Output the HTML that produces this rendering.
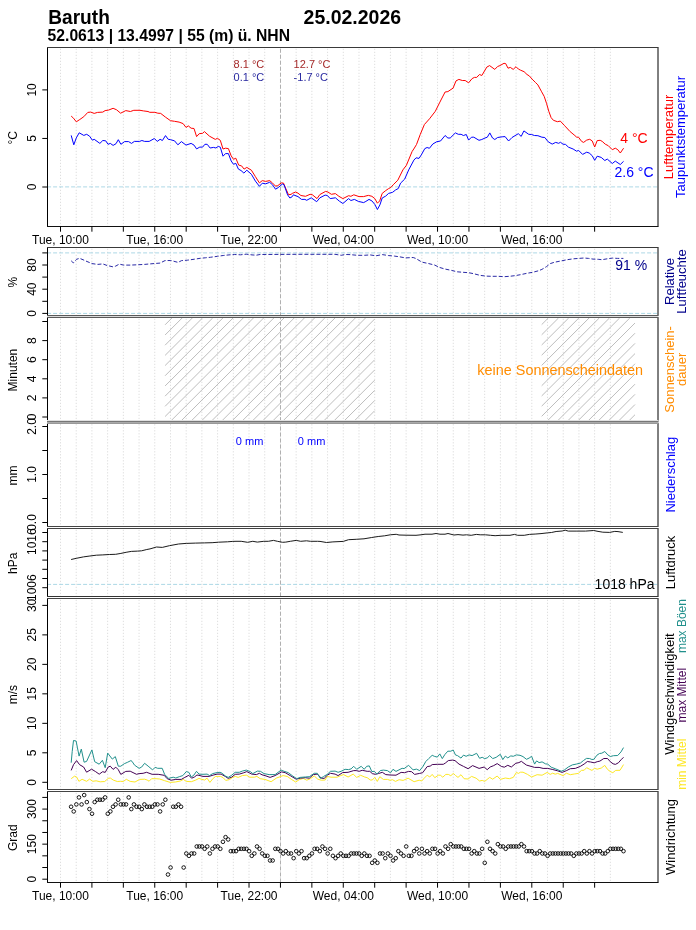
<!DOCTYPE html>
<html><head><meta charset="utf-8"><title>Baruth 25.02.2026</title>
<style>html,body{margin:0;padding:0;background:#fff;} svg{display:block;font-family:'Liberation Sans', Arial, Helvetica, sans-serif;will-change:transform;}</style>
</head><body>
<svg width="696" height="930" viewBox="0 0 696 930">
<rect width="696" height="930" fill="#fff"/>
<text transform="translate(48.3 23.6) scale(1 1.04)" font-size="19.1" font-weight="bold">Baruth</text>
<text transform="translate(303.6 24.3) scale(1 1.04)" font-size="19.5" font-weight="bold">25.02.2026</text>
<text transform="translate(47.6 41.1) scale(1 1.04)" font-size="15.7" font-weight="bold">52.0613 | 13.4997 | 55 (m) ü. NHN</text>
<path d="M60.5 48.75V226M76.21 48.75V226M91.92 48.75V226M107.63 48.75V226M123.34 48.75V226M139.05 48.75V226M154.76 48.75V226M170.47 48.75V226M186.18 48.75V226M201.89 48.75V226M217.6 48.75V226M233.31 48.75V226M249.02 48.75V226M264.73 48.75V226M280.44 48.75V226M296.15 48.75V226M311.86 48.75V226M327.57 48.75V226M343.28 48.75V226M358.99 48.75V226M374.7 48.75V226M390.41 48.75V226M406.12 48.75V226M421.83 48.75V226M437.54 48.75V226M453.25 48.75V226M468.96 48.75V226M484.67 48.75V226M500.38 48.75V226M516.09 48.75V226M531.8 48.75V226M547.51 48.75V226M563.22 48.75V226M578.93 48.75V226M594.64 48.75V226M610.35 48.75V226" stroke="#dedede" stroke-width="1" stroke-dasharray="1.3 1.7" fill="none"/>
<path d="M48.0 186.9H657.5" stroke="#add8e6" stroke-width="1" stroke-dasharray="4 2" stroke-dashoffset="0.90" fill="none"/>
<path d="M280.5 48V226" stroke="#b0b0b0" stroke-width="1" stroke-dasharray="4 2" stroke-dashoffset="5.30" fill="none"/>
<polyline points="71.2,116.1 73.5,118.2 76.3,121.8 79.8,119.5 83.8,116.7 87.8,112.4 90.7,112.1 94.2,113.4 97.6,112.4 102.8,112.1 105.1,110.6 108.5,110.1 113.1,108.3 116.6,109.8 120.6,113.2 125.8,110.6 130.4,111.5 133.8,110.3 140,110.3 143.4,110.9 148,111.5 149.8,112.3 154.9,112.3 157.8,113.2 160.7,113.4 165.3,117 170.5,120.7 174.5,121.3 179.1,122.1 183.1,123.6 186,127.4 188.3,125.9 191.1,128.2 194,128.5 196.6,136.6 199.2,133.7 202.6,133.3 204.4,131.6 209.5,136.2 215.3,139.4 217.4,138.3 220.3,140.3 223,149 225.5,148.2 228.4,148.6 231.2,155.9 233.5,159.3 235.8,158.2 238.7,165.1 241.6,165.9 244.1,169.1 246.8,167.4 251.4,170.2 255.4,176.6 259.4,182.9 262.3,180.6 265.7,181.4 269.7,180.6 272.6,183.1 275.5,186.1 277.8,185.7 281.2,182.9 283.5,183.1 285.8,188.6 288.5,194.7 291,194.4 292.3,193.4 295.7,192 298,193.2 300.9,195.5 305.5,196.3 310.1,194.3 312.4,194.8 317,198.6 319.9,194.5 325.6,191.4 327.9,192 331.4,194.3 335.4,193.6 338.9,196.3 342.9,198.6 348.6,195.7 350.9,196.3 353.8,194.8 359,196.6 363.6,196.6 367,195.7 368.4,195.4 371.9,196.3 374.8,198.6 377.4,203.2 379.7,200.9 382.2,193.4 385.7,190.6 388.6,188.6 390.9,187.4 393.2,184.8 397.8,180.2 402.9,169.9 406.4,165.3 412.1,151.5 414.4,148 416.5,144.5 420.3,134.3 424.4,124.5 429.5,118.8 435.3,111.3 439.9,102.1 445.1,92 447.9,91.6 453.1,88.1 456,80.9 458.9,79.4 462.3,80.5 465.2,80.5 468.6,82.8 472.1,78.6 474.4,77.4 476.7,77.4 479.5,74.5 481.8,75.5 486.8,67.1 489.6,65.6 494.8,69.4 497.6,66.5 499.9,65.6 504,63.3 505.7,63.6 508,68.2 510.3,67.4 513.2,69.4 516,66.7 518.3,69 520.6,70.2 524.1,71.7 527,74.5 529.3,75.9 532.1,79.1 535.6,82.6 537.9,84.9 541.3,91.2 544.2,96.4 546.5,103.3 548.8,111.3 551.1,117.6 553.4,120.3 557.4,121.7 560.3,121.1 564.3,125.3 565,126.1 570.1,131.6 574.1,134.9 576.6,137.1 578.6,137.3 581.6,141.4 583.6,142.4 586.7,140.1 589.7,139.3 592.2,140.9 594.7,147 597.2,140.6 600.2,140.3 602.2,141.4 605.3,144.2 608.3,145.7 612.3,149.7 615.3,148.2 617.8,149.7 620.3,153 623.6,148.2" fill="none" stroke="#ff0000" stroke-width="1" stroke-linejoin="round" />
<polyline points="71.2,135.4 73.8,144.8 76.3,137.9 79.2,132.8 83.8,135.4 86.7,134.3 89.6,136.2 92.4,140.2 94.2,139.3 99.9,143.4 102.8,140.5 105.7,140.8 108,144.3 110.3,143.4 113.1,145.4 116,143.7 118.3,139.7 120.9,144.3 124.6,141.6 128.6,141.6 131.5,143.4 134.4,141.4 139.6,141.4 141.9,140.5 144.6,141.4 149.2,141.4 154.4,138.5 157.2,141.4 160.1,139.3 162.4,140.5 165.5,135.6 168.2,139.3 170.5,139.7 174.5,140.8 177.9,144.8 181.4,141.6 186,145.1 191.1,143.4 194,145.1 196.6,148.9 199.8,147.1 202.6,147.1 204.9,144.3 207.2,144.3 210.1,148 213.6,147.4 215.9,148 218.3,146.4 220.3,147.2 223,156.2 225.5,153.6 228.4,153.6 231.2,161 233.5,164.3 235.8,163.3 238.4,169.1 241,170.5 243.9,173.1 246.8,170.2 251.4,174.3 255.4,181.1 259.4,186.3 262.3,183.2 265.7,183.8 269.7,182.3 272.6,184.9 275.5,189.2 278.4,187.5 282.4,184 284.1,184.9 287.6,194.9 289.9,198 292.2,196.7 293.4,194.8 298,196.6 301.5,199.4 304.9,199.4 306.7,200.3 311.3,197.8 316.7,201.7 319.9,197.8 325.1,195.1 327.4,195.5 330.2,198.6 335.4,197.8 339.4,201.2 342.9,203.5 348.6,198.6 350.9,200.5 354.4,199.4 358.4,201.4 363.6,202.6 365.9,201.4 369,199.4 371.9,200.9 374.8,204.4 377.4,209.5 379.9,204.9 382.2,198 385.7,196.1 388.6,193.4 392.6,192.3 395.5,190 398.3,188.5 400.6,183.1 404.7,179.1 408.7,169.9 413.9,160.1 416.1,157.8 419,158.4 421.3,154.9 424.8,148.6 427.1,147.5 429.4,148.3 432.8,144 436.8,141.7 440.5,141 445.1,135.5 447.9,138 450.2,138 455.4,132.9 458.3,134.3 461.1,134.3 463.4,135.5 466.3,134.5 468.6,140.1 471.5,137.2 473.8,137.2 479,140.3 481.8,139.5 485,138 487.3,137.2 489.8,132.9 492.5,138 494.8,139.5 497.6,137.5 502.2,136.8 505.1,136.6 508.6,141 512,137.5 518.3,133.7 521.2,136.4 523.9,130.9 528.7,134.3 531.6,134.5 534.4,135.5 537.9,135.7 541.9,137.2 544.8,137.5 548.2,141.8 552.2,144.1 555.7,142.4 558.6,143.3 560.5,142.3 563,144.2 565.5,144.4 568.5,147.2 573.1,149 576.6,151.2 578.6,150.4 582.6,154.4 586.7,152.2 589.2,153 592.2,155.7 594.7,160.3 597.2,156.2 601.2,157.4 604.8,160.5 607.3,159.1 612.3,163.5 615.3,161.1 620.3,164.5 623.6,161.3" fill="none" stroke="#0000ff" stroke-width="1" stroke-linejoin="round" />
<g font-size="11">
<text transform="translate(233.6 67.6) scale(1 1.04)" fill="#a52a2a">8.1 °C</text>
<text transform="translate(293.6 67.6) scale(1 1.04)" fill="#a52a2a">12.7 °C</text>
<text transform="translate(233.6 81.4) scale(1 1.04)" fill="#2a2aa0">0.1 °C</text>
<text transform="translate(293.6 81.4) scale(1 1.04)" fill="#2a2aa0">-1.7 °C</text>
</g>
<text transform="translate(634 143) scale(1 1.04)" text-anchor="middle" font-size="14" fill="#ff0000">4 °C</text>
<text transform="translate(634 177) scale(1 1.04)" text-anchor="middle" font-size="14" fill="#0000ff">2.6 °C</text>
<path d="M47.5 47.5V226.5M658.0 47.5V226.5" stroke="#000" stroke-width="1" fill="none"/>
<path d="M47.0 47.5H658.5" stroke="#3a3a3a" stroke-width="1" fill="none"/>
<path d="M47.0 226.5H658.5" stroke="#111" stroke-width="1" fill="none"/>
<path d="M42.3 187H47.5M42.3 138.45H47.5M42.3 89.9H47.5" stroke="#000" stroke-width="1" fill="none"/>
<text transform="translate(35.6 187) rotate(-90) scale(1 1.04)" text-anchor="middle" font-size="12">0</text>
<text transform="translate(35.6 138.45) rotate(-90) scale(1 1.04)" text-anchor="middle" font-size="12">5</text>
<text transform="translate(35.6 89.9) rotate(-90) scale(1 1.04)" text-anchor="middle" font-size="12">10</text>
<text transform="translate(17.3 137.7) rotate(-90) scale(1 1.04)" text-anchor="middle" font-size="12">°C</text>
<text transform="translate(673.1 137) rotate(-90) scale(1 1.04)" text-anchor="middle" font-size="13" fill="#ff0000">Lufttemperatur</text>
<text transform="translate(685.4 137) rotate(-90) scale(1 1.04)" text-anchor="middle" font-size="13" fill="#0000ff">Taupunktstemperatur</text>
<path d="M60.5 226.5v5.2M91.92 226.5v5.2M123.34 226.5v5.2M154.76 226.5v5.2M186.18 226.5v5.2M217.6 226.5v5.2M249.02 226.5v5.2M280.44 226.5v5.2M311.86 226.5v5.2M343.28 226.5v5.2M374.7 226.5v5.2M406.12 226.5v5.2M437.54 226.5v5.2M468.96 226.5v5.2M500.38 226.5v5.2M531.8 226.5v5.2M563.22 226.5v5.2M594.64 226.5v5.2" stroke="#000" stroke-width="1" fill="none"/>
<text transform="translate(60.5 244) scale(1 1.04)" text-anchor="middle" font-size="12">Tue, 10:00</text>
<text transform="translate(154.76 244) scale(1 1.04)" text-anchor="middle" font-size="12">Tue, 16:00</text>
<text transform="translate(249.02 244) scale(1 1.04)" text-anchor="middle" font-size="12">Tue, 22:00</text>
<text transform="translate(343.28 244) scale(1 1.04)" text-anchor="middle" font-size="12">Wed, 04:00</text>
<text transform="translate(437.54 244) scale(1 1.04)" text-anchor="middle" font-size="12">Wed, 10:00</text>
<text transform="translate(531.8 244) scale(1 1.04)" text-anchor="middle" font-size="12">Wed, 16:00</text>
<path d="M60.5 248.75V315M76.21 248.75V315M91.92 248.75V315M107.63 248.75V315M123.34 248.75V315M139.05 248.75V315M154.76 248.75V315M170.47 248.75V315M186.18 248.75V315M201.89 248.75V315M217.6 248.75V315M233.31 248.75V315M249.02 248.75V315M264.73 248.75V315M280.44 248.75V315M296.15 248.75V315M311.86 248.75V315M327.57 248.75V315M343.28 248.75V315M358.99 248.75V315M374.7 248.75V315M390.41 248.75V315M406.12 248.75V315M421.83 248.75V315M437.54 248.75V315M453.25 248.75V315M468.96 248.75V315M484.67 248.75V315M500.38 248.75V315M516.09 248.75V315M531.8 248.75V315M547.51 248.75V315M563.22 248.75V315M578.93 248.75V315M594.64 248.75V315M610.35 248.75V315" stroke="#dedede" stroke-width="1" stroke-dasharray="1.3 1.7" fill="none"/>
<path d="M48.0 313.4H657.5" stroke="#add8e6" stroke-width="1" stroke-dasharray="4 2" stroke-dashoffset="0.90" fill="none"/>
<path d="M48.0 252.9H657.5" stroke="#add8e6" stroke-width="1" stroke-dasharray="4 2" stroke-dashoffset="0.90" fill="none"/>
<path d="M280.5 248V315" stroke="#b0b0b0" stroke-width="1" stroke-dasharray="4 2" stroke-dashoffset="1.70" fill="none"/>
<polyline points="71.2,260.8 73.3,262.9 76.6,259.3 79.5,258.3 82,259.3 87,261.5 92,263.6 97.8,264.4 102.8,263.9 107.1,265.5 112.9,266.8 115.7,266.1 119.3,264.1 123.6,265.1 130.1,265.1 137.3,264.8 144.5,264.4 150.2,263.9 156,263.4 160,263.1 165,260.6 170.8,260.5 173.6,261.2 178,262.4 181.6,260.6 187.3,260.2 194.5,259.2 200.2,258.3 205.3,257.8 210.3,257.3 217.5,256.3 223.2,255.5 229,254.9 234.7,254.5 240.5,254.8 246.2,254.2 252,254.9 256.3,255.2 260,254.5 280,254.4 300,254.3 320,254.3 335,254.3 341.2,255.3 345,254.5 350,254.6 357.2,255.3 364.4,255.3 370.1,254.9 375.9,255.8 382.3,254.6 388.8,255.6 394.5,256.1 399.6,256.8 405.3,257.9 413.2,257.5 416.1,258.6 421.8,262.1 428.3,263.5 434.8,265.1 439.1,267.3 444.8,269 451.5,270.4 457.2,271.8 463,272.3 468.7,272.7 473.7,273.7 480.2,275.4 486,276.1 491.7,276.3 498.2,276.3 503.9,276.7 509.7,276.3 515.4,275.6 520.4,274.7 526.9,273.3 532.6,272.3 538.4,270.8 541.9,269.4 546.5,266.6 550.3,263.6 554.2,262.3 560.7,261 567.2,259.7 573.6,258.8 578.8,258.4 584,258 588.5,258.4 593,259.1 598.2,259.3 602.1,259.7 607.2,258.8 612.4,258.1 617.6,258.4 623.4,258.4" fill="none" stroke="#2a2aa6" stroke-width="1" stroke-linejoin="round" stroke-dasharray="4 2"/>
<text transform="translate(631.2 269.9) scale(1 1.04)" text-anchor="middle" font-size="14" fill="#00008b">91 %</text>
<path d="M47.5 247.5V315.5M658.0 247.5V315.5" stroke="#000" stroke-width="1" fill="none"/>
<path d="M47.0 247.5H658.5" stroke="#3a3a3a" stroke-width="1" fill="none"/>
<path d="M47.0 315.5H658.5" stroke="#5a5a5a" stroke-width="1" fill="none"/>
<path d="M47.0 316.5H658.5" stroke="#dadada" stroke-width="1" fill="none"/>
<path d="M42.3 313.4H47.5M42.3 301.3H47.5M42.3 289.2H47.5M42.3 277.1H47.5M42.3 265H47.5M42.3 252.9H47.5" stroke="#000" stroke-width="1" fill="none"/>
<text transform="translate(35.6 313.4) rotate(-90) scale(1 1.04)" text-anchor="middle" font-size="12">0</text>
<text transform="translate(35.6 289.2) rotate(-90) scale(1 1.04)" text-anchor="middle" font-size="12">40</text>
<text transform="translate(35.6 265) rotate(-90) scale(1 1.04)" text-anchor="middle" font-size="12">80</text>
<text transform="translate(17.3 282.2) rotate(-90) scale(1 1.04)" text-anchor="middle" font-size="12">%</text>
<text transform="translate(673.8 281.5) rotate(-90) scale(1 1.04)" text-anchor="middle" font-size="13" fill="#00008b">Relative</text>
<text transform="translate(686.3 281.5) rotate(-90) scale(1 1.04)" text-anchor="middle" font-size="13" fill="#00008b">Luftfeuchte</text>
<path d="M60.5 318.75V420.8M76.21 318.75V420.8M91.92 318.75V420.8M107.63 318.75V420.8M123.34 318.75V420.8M139.05 318.75V420.8M154.76 318.75V420.8M170.47 318.75V420.8M186.18 318.75V420.8M201.89 318.75V420.8M217.6 318.75V420.8M233.31 318.75V420.8M249.02 318.75V420.8M264.73 318.75V420.8M280.44 318.75V420.8M296.15 318.75V420.8M311.86 318.75V420.8M327.57 318.75V420.8M343.28 318.75V420.8M358.99 318.75V420.8M374.7 318.75V420.8M390.41 318.75V420.8M406.12 318.75V420.8M421.83 318.75V420.8M437.54 318.75V420.8M453.25 318.75V420.8M468.96 318.75V420.8M484.67 318.75V420.8M500.38 318.75V420.8M516.09 318.75V420.8M531.8 318.75V420.8M547.51 318.75V420.8M563.22 318.75V420.8M578.93 318.75V420.8M594.64 318.75V420.8M610.35 318.75V420.8" stroke="#dedede" stroke-width="1" stroke-dasharray="1.3 1.7" fill="none"/>
<path d="M280.5 318V420.8" stroke="#b0b0b0" stroke-width="1" stroke-dasharray="4 2" stroke-dashoffset="2.90" fill="none"/>
<path d="M165.1 324.8L171.9 318M165.1 334.99L182.09 318M165.1 345.18L192.28 318M165.1 355.37L202.47 318M165.1 365.56L212.66 318M165.1 375.75L222.85 318M165.1 385.94L233.04 318M165.1 396.13L243.23 318M165.1 406.32L253.42 318M165.1 416.51L263.61 318M171 420.8L273.8 318M181.19 420.8L283.99 318M191.38 420.8L294.18 318M201.57 420.8L304.37 318M211.76 420.8L314.56 318M221.95 420.8L324.75 318M232.14 420.8L334.94 318M242.33 420.8L345.13 318M252.52 420.8L355.32 318M262.71 420.8L365.51 318M272.9 420.8L374.7 319M283.09 420.8L374.7 329.19M293.28 420.8L374.7 339.38M303.47 420.8L374.7 349.57M313.66 420.8L374.7 359.76M323.85 420.8L374.7 369.95M334.04 420.8L374.7 380.14M344.23 420.8L374.7 390.33M354.42 420.8L374.7 400.52M364.61 420.8L374.7 410.71" stroke="#bebebe" stroke-width="1" fill="none"/>
<path d="M541.7 324.6L548.3 318M541.7 334.79L558.49 318M541.7 344.98L568.68 318M541.7 355.17L578.87 318M541.7 365.36L589.06 318M541.7 375.55L599.25 318M541.7 385.74L609.44 318M541.7 395.93L619.63 318M541.7 406.12L629.82 318M541.7 416.31L635 323.01M547.4 420.8L635 333.2M557.59 420.8L635 343.39M567.78 420.8L635 353.58M577.97 420.8L635 363.77M588.16 420.8L635 373.96M598.35 420.8L635 384.15M608.54 420.8L635 394.34M618.73 420.8L635 404.53M628.92 420.8L635 414.72" stroke="#bebebe" stroke-width="1" fill="none"/>
<text transform="translate(560.2 374.9) scale(1 1.04)" text-anchor="middle" font-size="14.4" fill="#ff8c00">keine Sonnenscheindaten</text>
<path d="M47.5 317.5V421.3M658.0 317.5V421.3" stroke="#000" stroke-width="1" fill="none"/>
<path d="M47.0 317.5H658.5" stroke="#5a5a5a" stroke-width="1" fill="none"/>
<path d="M47.0 420.5H658.5" stroke="#e0e0e0" stroke-width="1" fill="none"/>
<path d="M47.0 421.5H658.5" stroke="#777" stroke-width="1" fill="none"/>
<path d="M42.3 417H47.5M42.3 397.9H47.5M42.3 378.8H47.5M42.3 359.7H47.5M42.3 340.6H47.5M42.3 321.5H47.5" stroke="#000" stroke-width="1" fill="none"/>
<text transform="translate(35.6 417) rotate(-90) scale(1 1.04)" text-anchor="middle" font-size="12">0</text>
<text transform="translate(35.6 397.9) rotate(-90) scale(1 1.04)" text-anchor="middle" font-size="12">2</text>
<text transform="translate(35.6 378.8) rotate(-90) scale(1 1.04)" text-anchor="middle" font-size="12">4</text>
<text transform="translate(35.6 359.7) rotate(-90) scale(1 1.04)" text-anchor="middle" font-size="12">6</text>
<text transform="translate(35.6 340.6) rotate(-90) scale(1 1.04)" text-anchor="middle" font-size="12">8</text>
<text transform="translate(17.3 370.1) rotate(-90) scale(1 1.04)" text-anchor="middle" font-size="12">Minuten</text>
<text transform="translate(673.9 369.4) rotate(-90) scale(1 1.04)" text-anchor="middle" font-size="13" fill="#ff8c00">Sonnenschein-</text>
<text transform="translate(686.2 369.4) rotate(-90) scale(1 1.04)" text-anchor="middle" font-size="13" fill="#ff8c00">dauer</text>
<path d="M60.5 424.15V526M76.21 424.15V526M91.92 424.15V526M107.63 424.15V526M123.34 424.15V526M139.05 424.15V526M154.76 424.15V526M170.47 424.15V526M186.18 424.15V526M201.89 424.15V526M217.6 424.15V526M233.31 424.15V526M249.02 424.15V526M264.73 424.15V526M280.44 424.15V526M296.15 424.15V526M311.86 424.15V526M327.57 424.15V526M343.28 424.15V526M358.99 424.15V526M374.7 424.15V526M390.41 424.15V526M406.12 424.15V526M421.83 424.15V526M437.54 424.15V526M453.25 424.15V526M468.96 424.15V526M484.67 424.15V526M500.38 424.15V526M516.09 424.15V526M531.8 424.15V526M547.51 424.15V526M563.22 424.15V526M578.93 424.15V526M594.64 424.15V526M610.35 424.15V526" stroke="#dedede" stroke-width="1" stroke-dasharray="1.3 1.7" fill="none"/>
<path d="M280.5 423.4V526" stroke="#b0b0b0" stroke-width="1" stroke-dasharray="4 2" stroke-dashoffset="3.00" fill="none"/>
<g font-size="11" fill="#0000ff"><text transform="translate(235.8 444.8) scale(1 1.04)">0 mm</text><text transform="translate(297.8 444.8) scale(1 1.04)">0 mm</text></g>
<path d="M47.5 422.9V526.5M658.0 422.9V526.5" stroke="#000" stroke-width="1" fill="none"/>
<path d="M47.0 422.5H658.5" stroke="#aaa" stroke-width="1" fill="none"/>
<path d="M47.0 423.5H658.5" stroke="#999" stroke-width="1" fill="none"/>
<path d="M47.0 526.5H658.5" stroke="#444" stroke-width="1" fill="none"/>
<path d="M42.3 522.5H47.5M42.3 498.5H47.5M42.3 474.5H47.5M42.3 450.5H47.5M42.3 426.5H47.5" stroke="#000" stroke-width="1" fill="none"/>
<text transform="translate(35.6 522.5) rotate(-90) scale(1 1.04)" text-anchor="middle" font-size="12">0.0</text>
<text transform="translate(35.6 474.5) rotate(-90) scale(1 1.04)" text-anchor="middle" font-size="12">1.0</text>
<text transform="translate(35.6 426.5) rotate(-90) scale(1 1.04)" text-anchor="middle" font-size="12">2.0</text>
<text transform="translate(17.3 475.4) rotate(-90) scale(1 1.04)" text-anchor="middle" font-size="12">mm</text>
<text transform="translate(675.0 474.7) rotate(-90) scale(1 1.04)" text-anchor="middle" font-size="13" fill="#0000ff">Niederschlag</text>
<path d="M60.5 529.75V596M76.21 529.75V596M91.92 529.75V596M107.63 529.75V596M123.34 529.75V596M139.05 529.75V596M154.76 529.75V596M170.47 529.75V596M186.18 529.75V596M201.89 529.75V596M217.6 529.75V596M233.31 529.75V596M249.02 529.75V596M264.73 529.75V596M280.44 529.75V596M296.15 529.75V596M311.86 529.75V596M327.57 529.75V596M343.28 529.75V596M358.99 529.75V596M374.7 529.75V596M390.41 529.75V596M406.12 529.75V596M421.83 529.75V596M437.54 529.75V596M453.25 529.75V596M468.96 529.75V596M484.67 529.75V596M500.38 529.75V596M516.09 529.75V596M531.8 529.75V596M547.51 529.75V596M563.22 529.75V596M578.93 529.75V596M594.64 529.75V596M610.35 529.75V596" stroke="#dedede" stroke-width="1" stroke-dasharray="1.3 1.7" fill="none"/>
<path d="M48.0 584.4H657.5" stroke="#add8e6" stroke-width="1" stroke-dasharray="4 2" stroke-dashoffset="0.90" fill="none"/>
<path d="M280.5 529V596" stroke="#b0b0b0" stroke-width="1" stroke-dasharray="4 2" stroke-dashoffset="2.55" fill="none"/>
<polyline points="71.1,559.5 76.9,558.2 83.4,556.9 89.9,556 96.3,555.2 102.8,554.9 109.3,554.5 115.7,554.3 120.9,553.4 126.1,552.3 131.3,551.4 137.7,551.1 141.6,550.8 146.8,549.5 150,548.9 156.5,547 162.3,547.4 169.4,545.7 178.5,544 186.2,543.4 195.3,543.1 204.3,542.9 212.1,542.7 218.6,542.2 227.6,541.8 232.8,541.4 236,541.3 241.2,541.3 247.6,542.3 252.8,541.3 257.3,542.1 263.8,541.3 268.3,541.3 273.5,540.4 277.4,541.3 282.6,542.3 285.8,542.1 290.3,541.3 296.2,540.4 300.7,541.3 306.5,540.8 310.4,541.3 317.5,541.3 320,541.4 326.5,542.5 332.9,541.9 343.3,541.4 348.5,539.7 356.2,539.3 364,538.8 371.7,537.5 378.2,536.5 384.7,535.8 390.3,534.8 396.2,534.3 399,535.0 406,535.2 416,535.3 421,534.8 425,534.2 432,534.2 436,533.5 440,534.2 445,534.2 448,533.5 454,535.0 458,534.6 463,535.1 466.5,534.8 471.2,535.3 476.3,534.4 480.2,534.8 485.4,534.8 490.6,535.3 495.1,535.7 500.9,535.3 510,535.3 514.5,534.4 517.7,535.3 524.2,535.3 529.4,534.4 535.9,534 541,533.6 547.2,532.9 551.4,532.5 556.1,531.5 562.2,531.0 565.2,530.2 568.3,531.1 576.9,531.1 585.5,531.1 593.7,530.5 597,531.2 602.8,532.2 609.7,532.4 614.8,531.4 618,531.6 622.8,532.4" fill="none" stroke="#1a1a1a" stroke-width="1" stroke-linejoin="round" />
<text transform="translate(654.5 588.6) scale(1 1.04)" text-anchor="end" font-size="14">1018 hPa</text>
<path d="M47.5 528.5V596.5M658.0 528.5V596.5" stroke="#000" stroke-width="1" fill="none"/>
<path d="M47.0 528.5H658.5" stroke="#444" stroke-width="1" fill="none"/>
<path d="M47.0 596.5H658.5" stroke="#333" stroke-width="1" fill="none"/>
<path d="M42.3 587.7H47.5M42.3 578.5H47.5M42.3 569.3H47.5M42.3 560.1H47.5M42.3 550.9H47.5M42.3 541.7H47.5M42.3 532.5H47.5" stroke="#000" stroke-width="1" fill="none"/>
<text transform="translate(35.6 587.7) rotate(-90) scale(1 1.04)" text-anchor="middle" font-size="12">1006</text>
<text transform="translate(35.6 541.7) rotate(-90) scale(1 1.04)" text-anchor="middle" font-size="12">1016</text>
<text transform="translate(17.3 563.2) rotate(-90) scale(1 1.04)" text-anchor="middle" font-size="12">hPa</text>
<text transform="translate(675.0 562.5) rotate(-90) scale(1 1.04)" text-anchor="middle" font-size="13" fill="#000">Luftdruck</text>
<path d="M60.5 599.75V789M76.21 599.75V789M91.92 599.75V789M107.63 599.75V789M123.34 599.75V789M139.05 599.75V789M154.76 599.75V789M170.47 599.75V789M186.18 599.75V789M201.89 599.75V789M217.6 599.75V789M233.31 599.75V789M249.02 599.75V789M264.73 599.75V789M280.44 599.75V789M296.15 599.75V789M311.86 599.75V789M327.57 599.75V789M343.28 599.75V789M358.99 599.75V789M374.7 599.75V789M390.41 599.75V789M406.12 599.75V789M421.83 599.75V789M437.54 599.75V789M453.25 599.75V789M468.96 599.75V789M484.67 599.75V789M500.38 599.75V789M516.09 599.75V789M531.8 599.75V789M547.51 599.75V789M563.22 599.75V789M578.93 599.75V789M594.64 599.75V789M610.35 599.75V789" stroke="#dedede" stroke-width="1" stroke-dasharray="1.3 1.7" fill="none"/>
<path d="M280.5 599V789" stroke="#b0b0b0" stroke-width="1" stroke-dasharray="4 2" stroke-dashoffset="5.30" fill="none"/>
<polyline points="71.2,778.7 74.5,776.2 76.6,777 78.9,781.3 82.1,779.3 86.6,781.3 89.6,779.1 92.7,781.3 96.2,780.8 100.2,781.8 104.7,781.5 108.2,778.4 110.3,778 113.3,780.1 117.3,781.5 120.3,781.3 123.3,781.5 126.3,779.3 130.2,781.4 135,782 139.6,779.4 144.6,779.2 147.1,780 149.1,781.2 151.6,778.7 156.1,778.7 159.7,779 164.7,780.7 170.2,782.4 175.3,782 180.3,781 183.3,779.4 186.3,781.4 191.3,781.7 195.2,780.3 199,778.4 202,779.4 204.6,780 207.1,778.2 209.9,782.4 213.1,778.4 215.6,776.4 220.6,776.4 223.2,777.7 225.7,780.4 229.2,779.7 232.2,777.7 235.2,776.4 238.2,777.4 242.3,775.6 246.3,775.1 249.8,777.2 254.3,777.2 256.9,776.4 260.2,778.7 265,779.4 271.1,781.7 276.6,778 283.1,775.6 287.2,776.4 291.2,779.2 295.7,782 299.2,779.7 303.2,778.4 306.8,780.2 310.3,778.7 314.3,776 317.8,779.2 321.3,780.2 325.2,780 327,776.4 331,777.2 337.1,777.2 340.6,775.6 343.6,774.6 348.1,777 353.2,774.1 356.7,777.4 360.7,775.3 364.7,777 367.2,777.7 370.3,780 372.3,780 374.8,777.4 377.3,781.4 379.8,776.7 383.3,779.4 387.4,779.4 390.2,780.3 392.5,779.7 395.5,781.4 399.1,779.7 403.1,780.4 408.1,778.2 414.1,781.7 419.2,780.2 421.7,781 424.2,778.2 427.2,775.2 429.7,777 432.2,774.4 434.8,777.7 438.3,775.2 440.3,775.2 442.8,777.2 445.8,774.4 448.3,774.4 450.8,775.7 453.4,773.4 455.5,775.5 458,777.4 461,774.7 464.1,778.7 468.1,779 471.6,776.4 476.1,778.2 479.6,781 482.2,780.4 484.7,781.4 489.7,777.4 492.7,779.2 497.2,776 500.3,779.4 505.3,778 509.3,778.7 513.3,777.4 516.4,772.4 518.4,773.4 520.5,772.2 523,772.2 527.5,774.4 531.6,777 537.1,774.7 542.1,775.2 547.2,772.4 550.2,774.4 552.7,773.2 555.2,774.2 557.7,773.4 563.2,775.7 566.3,773.2 570.3,774.7 574.3,774 578.3,773.4 581.4,770.4 584.2,770.2 586.6,767.7 589.3,769.1 591.9,770.4 594.6,768.3 597.2,769.2 601.2,768.1 604.8,765.4 607.5,769.4 610.1,771.4 612.8,772.7 615.7,770.4 620,770.3 623.5,764.6" fill="none" stroke="#fde725" stroke-width="1" stroke-linejoin="round" />
<polyline points="71.2,770.4 73.5,764.7 76.6,760.6 79.6,764.7 83.6,767 86.6,772.2 91.6,769.2 95.7,771.7 99.2,774.2 102.7,771.7 105.2,772.4 108.2,767 110.3,766.2 113.1,769.4 115.8,767.2 118.3,769.7 120.8,774.4 125.8,771.4 130.2,771.2 133,772.6 136.5,774.3 139.1,773.6 143.1,773.3 146.6,772.3 152.1,774.3 158.2,774.3 164.2,775.3 167.2,778.7 171.2,780.2 175.8,779.4 181.3,779.4 184.8,777.4 188.8,775.3 191.6,778.2 194.4,777 196.9,775.1 198,775.1 203,776.4 209.1,776.4 213.1,775.1 217.1,774.1 221.1,774.1 225.2,776.4 228.2,778.4 231.7,777.2 235.2,774.3 239.3,774.1 243.3,772.9 246.8,771.6 251.8,774.1 256.4,774.6 259.4,773.3 262,774.8 265,775.6 270.1,777.4 275.1,775.6 281.6,771.9 285.1,772.6 290.2,775.6 296.2,779.2 300.2,778.2 305.3,777.7 309.3,778.2 313.3,774.6 317.3,774.1 321.3,778.2 324.4,778.4 325,777.4 327.5,775.1 330.5,773.3 335.1,774.1 338.1,775.6 342.6,772.6 348.1,772.3 353.7,770.6 356.2,770.6 359.2,771.3 362.2,770.3 367.2,771.3 369.8,771.3 372.3,773.6 375.3,774.3 378.3,773.6 382.3,772.3 385.8,774.6 390,775 396,775.2 401.1,772.4 404.6,772.7 408.6,771.4 411.6,771.7 414.6,774.4 419.7,773.4 422.7,772.7 427.2,766.6 430.2,766.1 432.2,764.6 437.3,764.3 443.3,764.3 445.3,763.1 448.3,760.6 452.4,760.1 455,760.6 459,764.1 463.5,766.4 468.1,768.7 472.6,765.6 479.1,768.4 484.2,767 487.2,769.7 490.2,767 493.7,765.6 497.2,763.6 501.3,766.4 504.3,767.2 507.8,765.3 511.3,767 515.8,763.3 518.9,762.6 521.4,761.3 523,762.6 526.5,765.1 531.1,766.4 534.6,767.4 539.1,767.4 543.1,768.4 547.7,768.4 552.2,769.4 557.2,770.7 562.2,772.4 566.3,770.7 570.3,768.7 575.3,768.4 580.3,766.4 584.2,764 587.3,761.5 590.6,762 594.2,762.8 597.2,761.7 599.9,761.1 603.8,758.5 607.5,758.5 610.4,761.8 613.1,763.8 615.4,764.4 618.4,762.8 621,759.8 623.5,757.3" fill="none" stroke="#440154" stroke-width="1" stroke-linejoin="round" />
<polyline points="71.2,762.7 72.2,751.6 73.5,740.5 76.1,741 77.3,747.1 79.1,756.1 81.3,749.1 84.1,762.2 86.6,761.4 91.9,749.9 94.7,761.7 99.2,764.2 102.4,760.3 105.2,767.7 107.7,753.1 112.3,759.1 115.3,756.6 118.3,766.2 120.8,766.2 124.3,763.7 127.3,762.4 130.9,760.6 132,761.3 134.5,765.1 139.1,768.3 141.6,767.1 144.6,763.3 148.1,766.1 152.6,769.9 155.1,767.3 157.7,768.3 162.2,768.3 164.7,774.6 168.7,778.4 173.2,777.2 175.8,778 179.3,776.7 182.8,775.6 186.3,771.6 188.8,772.3 191.3,777 193.9,775.1 196.5,771.3 199,774.1 203,774.3 207.1,774.1 209.6,775.6 212.6,773.6 217.1,772.6 220.1,772.3 222.2,773.3 225.2,775.9 228.2,777.4 231.2,775.6 235.2,772.3 239.3,772.3 242.3,771.1 246.3,770.1 250.3,771.6 252.8,773.6 257.4,771.1 260.4,771.3 264,773.6 269.1,774.6 275.1,774.6 281.1,770.1 284.1,771.3 288.2,772.6 292.2,775.6 296.7,778.7 300.2,777.4 305.3,777 309.3,776.7 314.3,773.3 317.3,773.3 320.3,778.4 323.4,776.7 325,775.6 327,774.6 330.5,771.3 335.1,771.1 338.1,772.3 341.1,771.3 345.1,769.3 348.6,769.6 351.1,768.9 353.7,766.3 356.7,769.3 361.2,766.3 364.2,769.3 366.7,766.3 369.3,765.9 371.8,771.6 374.3,771.3 376.8,774.1 380.3,770.6 383.3,770.1 387.4,770.6 390.5,772.8 393,769.3 396,771.4 402.1,768.3 404.1,768.6 408.6,765.3 413.1,769.9 416.4,769.1 419.7,770.6 423.2,766.1 425.7,761.6 428.7,758.6 432.2,755.3 434.3,756.3 437.3,757.1 439.8,753.9 442.3,758.6 444.8,754.6 447.8,751.2 450.8,751.2 453.2,750 455.5,755 457.5,755.6 461,758.1 463.5,755.1 466.1,756.3 469.1,754.9 472.1,755.6 476.6,753.3 479.6,758.3 482.2,757.3 484.7,758.6 487.2,757.9 489.7,755.6 492.7,758.6 496.2,757.3 500.3,754.3 502.8,759.6 505.3,756.1 507.8,757.9 510.8,755.9 513.3,756.3 516.4,754.9 520,755.3 523,756.6 526.5,759.3 529.1,758.1 531.6,756.3 534.6,764.1 536.6,760.9 539.1,762.6 542.1,761.9 545.6,763.9 547.7,764.1 551.2,767.2 555.2,768.7 561.2,771.2 564.3,770 568.3,767 572.3,764.9 576.3,764.1 580.3,763.1 583.4,760.6 586.5,758.4 589.6,758.5 591.9,759.5 593.9,759.3 596.9,755.2 599.5,753.5 601.8,753.2 604.8,751.5 607.8,754.9 610.4,756.5 613.4,755.7 617.7,755.5 621,751.9 623.5,747.6" fill="none" stroke="#21908c" stroke-width="1" stroke-linejoin="round" />
<path d="M47.5 598.5V789.5M658.0 598.5V789.5" stroke="#000" stroke-width="1" fill="none"/>
<path d="M47.0 598.5H658.5" stroke="#444" stroke-width="1" fill="none"/>
<path d="M47.0 789.5H658.5" stroke="#444" stroke-width="1" fill="none"/>
<path d="M42.3 782.3H47.5M42.3 752.81H47.5M42.3 723.33H47.5M42.3 693.84H47.5M42.3 664.36H47.5M42.3 634.88H47.5M42.3 605.39H47.5" stroke="#000" stroke-width="1" fill="none"/>
<text transform="translate(35.6 782.3) rotate(-90) scale(1 1.04)" text-anchor="middle" font-size="12">0</text>
<text transform="translate(35.6 752.81) rotate(-90) scale(1 1.04)" text-anchor="middle" font-size="12">5</text>
<text transform="translate(35.6 723.33) rotate(-90) scale(1 1.04)" text-anchor="middle" font-size="12">10</text>
<text transform="translate(35.6 693.84) rotate(-90) scale(1 1.04)" text-anchor="middle" font-size="12">15</text>
<text transform="translate(35.6 664.36) rotate(-90) scale(1 1.04)" text-anchor="middle" font-size="12">20</text>
<text transform="translate(35.6 634.88) rotate(-90) scale(1 1.04)" text-anchor="middle" font-size="12">25</text>
<text transform="translate(35.6 605.39) rotate(-90) scale(1 1.04)" text-anchor="middle" font-size="12">30</text>
<text transform="translate(17.3 694.7) rotate(-90) scale(1 1.04)" text-anchor="middle" font-size="12">m/s</text>
<text transform="translate(674.2 694) rotate(-90) scale(1 1.04)" text-anchor="middle" font-size="13" fill="#000">Windgeschwindigkeit</text>
<text transform="translate(686.3 626.1) rotate(-90) scale(1 1.04)" text-anchor="middle" font-size="12" fill="#21908c">max Böen</text>
<text transform="translate(686.3 695.2) rotate(-90) scale(1 1.04)" text-anchor="middle" font-size="12" fill="#440154">max Mittel</text>
<text transform="translate(686.3 764.2) rotate(-90) scale(1 1.04)" text-anchor="middle" font-size="12" fill="#fde725">min Mittel</text>
<path d="M60.5 792.75V882M76.21 792.75V882M91.92 792.75V882M107.63 792.75V882M123.34 792.75V882M139.05 792.75V882M154.76 792.75V882M170.47 792.75V882M186.18 792.75V882M201.89 792.75V882M217.6 792.75V882M233.31 792.75V882M249.02 792.75V882M264.73 792.75V882M280.44 792.75V882M296.15 792.75V882M311.86 792.75V882M327.57 792.75V882M343.28 792.75V882M358.99 792.75V882M374.7 792.75V882M390.41 792.75V882M406.12 792.75V882M421.83 792.75V882M437.54 792.75V882M453.25 792.75V882M468.96 792.75V882M484.67 792.75V882M500.38 792.75V882M516.09 792.75V882M531.8 792.75V882M547.51 792.75V882M563.22 792.75V882M578.93 792.75V882M594.64 792.75V882M610.35 792.75V882" stroke="#dedede" stroke-width="1" stroke-dasharray="1.3 1.7" fill="none"/>
<path d="M280.5 792V882" stroke="#b0b0b0" stroke-width="1" stroke-dasharray="4 2" stroke-dashoffset="3.60" fill="none"/>
<g fill="none" stroke="#000" stroke-width="0.9"><circle cx="71.10" cy="806.75" r="1.8"/><circle cx="73.72" cy="811.43" r="1.8"/><circle cx="76.34" cy="804.42" r="1.8"/><circle cx="78.95" cy="797.41" r="1.8"/><circle cx="81.57" cy="804.42" r="1.8"/><circle cx="84.19" cy="795.07" r="1.8"/><circle cx="86.81" cy="802.08" r="1.8"/><circle cx="89.43" cy="809.09" r="1.8"/><circle cx="92.04" cy="813.76" r="1.8"/><circle cx="94.66" cy="802.08" r="1.8"/><circle cx="97.28" cy="799.74" r="1.8"/><circle cx="99.90" cy="799.74" r="1.8"/><circle cx="102.52" cy="799.74" r="1.8"/><circle cx="105.13" cy="797.41" r="1.8"/><circle cx="107.75" cy="813.76" r="1.8"/><circle cx="110.37" cy="811.43" r="1.8"/><circle cx="112.99" cy="806.75" r="1.8"/><circle cx="115.61" cy="804.42" r="1.8"/><circle cx="118.22" cy="799.74" r="1.8"/><circle cx="120.84" cy="804.42" r="1.8"/><circle cx="123.46" cy="804.42" r="1.8"/><circle cx="126.08" cy="804.42" r="1.8"/><circle cx="128.70" cy="797.41" r="1.8"/><circle cx="131.31" cy="809.09" r="1.8"/><circle cx="133.93" cy="804.42" r="1.8"/><circle cx="136.55" cy="806.75" r="1.8"/><circle cx="139.17" cy="806.75" r="1.8"/><circle cx="141.79" cy="809.09" r="1.8"/><circle cx="144.40" cy="804.42" r="1.8"/><circle cx="147.02" cy="806.75" r="1.8"/><circle cx="149.64" cy="806.75" r="1.8"/><circle cx="152.26" cy="806.75" r="1.8"/><circle cx="154.88" cy="804.42" r="1.8"/><circle cx="157.49" cy="804.42" r="1.8"/><circle cx="160.11" cy="811.43" r="1.8"/><circle cx="162.73" cy="804.42" r="1.8"/><circle cx="165.35" cy="799.74" r="1.8"/><circle cx="167.97" cy="874.53" r="1.8"/><circle cx="170.58" cy="867.52" r="1.8"/><circle cx="173.20" cy="806.75" r="1.8"/><circle cx="175.82" cy="806.75" r="1.8"/><circle cx="178.44" cy="804.42" r="1.8"/><circle cx="181.06" cy="806.75" r="1.8"/><circle cx="183.67" cy="867.52" r="1.8"/><circle cx="186.29" cy="853.49" r="1.8"/><circle cx="188.91" cy="855.83" r="1.8"/><circle cx="191.53" cy="853.49" r="1.8"/><circle cx="194.15" cy="853.49" r="1.8"/><circle cx="196.76" cy="846.48" r="1.8"/><circle cx="199.38" cy="846.48" r="1.8"/><circle cx="202.00" cy="846.48" r="1.8"/><circle cx="204.62" cy="848.82" r="1.8"/><circle cx="207.24" cy="846.48" r="1.8"/><circle cx="209.85" cy="853.49" r="1.8"/><circle cx="212.47" cy="848.82" r="1.8"/><circle cx="215.09" cy="846.48" r="1.8"/><circle cx="217.71" cy="846.48" r="1.8"/><circle cx="220.33" cy="848.82" r="1.8"/><circle cx="222.94" cy="841.81" r="1.8"/><circle cx="225.56" cy="837.13" r="1.8"/><circle cx="228.18" cy="839.47" r="1.8"/><circle cx="230.80" cy="851.16" r="1.8"/><circle cx="233.42" cy="851.16" r="1.8"/><circle cx="236.03" cy="851.16" r="1.8"/><circle cx="238.65" cy="848.82" r="1.8"/><circle cx="241.27" cy="848.82" r="1.8"/><circle cx="243.89" cy="848.82" r="1.8"/><circle cx="246.51" cy="848.82" r="1.8"/><circle cx="249.12" cy="851.16" r="1.8"/><circle cx="251.74" cy="855.83" r="1.8"/><circle cx="254.36" cy="853.49" r="1.8"/><circle cx="256.98" cy="846.48" r="1.8"/><circle cx="259.60" cy="848.82" r="1.8"/><circle cx="262.21" cy="853.49" r="1.8"/><circle cx="264.83" cy="855.83" r="1.8"/><circle cx="267.45" cy="855.83" r="1.8"/><circle cx="270.07" cy="860.50" r="1.8"/><circle cx="272.69" cy="860.50" r="1.8"/><circle cx="275.30" cy="848.82" r="1.8"/><circle cx="277.92" cy="848.82" r="1.8"/><circle cx="280.54" cy="851.16" r="1.8"/><circle cx="283.16" cy="853.49" r="1.8"/><circle cx="285.78" cy="851.16" r="1.8"/><circle cx="288.39" cy="853.49" r="1.8"/><circle cx="291.01" cy="853.49" r="1.8"/><circle cx="293.63" cy="858.17" r="1.8"/><circle cx="296.25" cy="851.16" r="1.8"/><circle cx="298.87" cy="853.49" r="1.8"/><circle cx="301.48" cy="851.16" r="1.8"/><circle cx="304.10" cy="858.17" r="1.8"/><circle cx="306.72" cy="858.17" r="1.8"/><circle cx="309.34" cy="855.83" r="1.8"/><circle cx="311.96" cy="853.49" r="1.8"/><circle cx="314.57" cy="848.82" r="1.8"/><circle cx="317.19" cy="848.82" r="1.8"/><circle cx="319.81" cy="851.16" r="1.8"/><circle cx="322.43" cy="846.48" r="1.8"/><circle cx="325.05" cy="848.82" r="1.8"/><circle cx="327.66" cy="853.49" r="1.8"/><circle cx="330.28" cy="848.82" r="1.8"/><circle cx="332.90" cy="855.83" r="1.8"/><circle cx="335.52" cy="858.17" r="1.8"/><circle cx="338.14" cy="855.83" r="1.8"/><circle cx="340.75" cy="853.49" r="1.8"/><circle cx="343.37" cy="855.83" r="1.8"/><circle cx="345.99" cy="855.83" r="1.8"/><circle cx="348.61" cy="855.83" r="1.8"/><circle cx="351.23" cy="853.49" r="1.8"/><circle cx="353.84" cy="853.49" r="1.8"/><circle cx="356.46" cy="853.49" r="1.8"/><circle cx="359.08" cy="853.49" r="1.8"/><circle cx="361.70" cy="855.83" r="1.8"/><circle cx="364.32" cy="853.49" r="1.8"/><circle cx="366.93" cy="855.83" r="1.8"/><circle cx="369.55" cy="855.83" r="1.8"/><circle cx="372.17" cy="862.84" r="1.8"/><circle cx="374.79" cy="860.50" r="1.8"/><circle cx="377.41" cy="862.84" r="1.8"/><circle cx="380.02" cy="853.49" r="1.8"/><circle cx="382.64" cy="853.49" r="1.8"/><circle cx="385.26" cy="858.17" r="1.8"/><circle cx="387.88" cy="853.49" r="1.8"/><circle cx="390.50" cy="855.83" r="1.8"/><circle cx="393.11" cy="860.50" r="1.8"/><circle cx="395.73" cy="858.17" r="1.8"/><circle cx="398.35" cy="851.16" r="1.8"/><circle cx="400.97" cy="853.49" r="1.8"/><circle cx="403.59" cy="855.83" r="1.8"/><circle cx="406.20" cy="846.48" r="1.8"/><circle cx="408.82" cy="855.83" r="1.8"/><circle cx="411.44" cy="855.83" r="1.8"/><circle cx="414.06" cy="851.16" r="1.8"/><circle cx="416.68" cy="848.82" r="1.8"/><circle cx="419.29" cy="853.49" r="1.8"/><circle cx="421.91" cy="848.82" r="1.8"/><circle cx="424.53" cy="853.49" r="1.8"/><circle cx="427.15" cy="851.16" r="1.8"/><circle cx="429.77" cy="853.49" r="1.8"/><circle cx="432.38" cy="848.82" r="1.8"/><circle cx="435.00" cy="848.82" r="1.8"/><circle cx="437.62" cy="853.49" r="1.8"/><circle cx="440.24" cy="851.16" r="1.8"/><circle cx="442.86" cy="853.49" r="1.8"/><circle cx="445.47" cy="846.48" r="1.8"/><circle cx="448.09" cy="848.82" r="1.8"/><circle cx="450.71" cy="844.15" r="1.8"/><circle cx="453.33" cy="846.48" r="1.8"/><circle cx="455.95" cy="846.48" r="1.8"/><circle cx="458.56" cy="846.48" r="1.8"/><circle cx="461.18" cy="846.48" r="1.8"/><circle cx="463.80" cy="848.82" r="1.8"/><circle cx="466.42" cy="848.82" r="1.8"/><circle cx="469.04" cy="848.82" r="1.8"/><circle cx="471.65" cy="853.49" r="1.8"/><circle cx="474.27" cy="851.16" r="1.8"/><circle cx="476.89" cy="853.49" r="1.8"/><circle cx="479.51" cy="853.49" r="1.8"/><circle cx="482.13" cy="848.82" r="1.8"/><circle cx="484.74" cy="862.84" r="1.8"/><circle cx="487.36" cy="841.81" r="1.8"/><circle cx="489.98" cy="848.82" r="1.8"/><circle cx="492.60" cy="851.16" r="1.8"/><circle cx="495.22" cy="853.49" r="1.8"/><circle cx="497.83" cy="844.15" r="1.8"/><circle cx="500.45" cy="846.48" r="1.8"/><circle cx="503.07" cy="846.48" r="1.8"/><circle cx="505.69" cy="848.82" r="1.8"/><circle cx="508.31" cy="846.48" r="1.8"/><circle cx="510.92" cy="846.48" r="1.8"/><circle cx="513.54" cy="846.48" r="1.8"/><circle cx="516.16" cy="846.48" r="1.8"/><circle cx="518.78" cy="846.48" r="1.8"/><circle cx="521.40" cy="844.15" r="1.8"/><circle cx="524.01" cy="846.48" r="1.8"/><circle cx="526.63" cy="851.16" r="1.8"/><circle cx="529.25" cy="851.16" r="1.8"/><circle cx="531.87" cy="851.16" r="1.8"/><circle cx="534.49" cy="853.49" r="1.8"/><circle cx="537.10" cy="853.49" r="1.8"/><circle cx="539.72" cy="851.16" r="1.8"/><circle cx="542.34" cy="853.49" r="1.8"/><circle cx="544.96" cy="853.49" r="1.8"/><circle cx="547.58" cy="855.83" r="1.8"/><circle cx="550.19" cy="853.49" r="1.8"/><circle cx="552.81" cy="853.49" r="1.8"/><circle cx="555.43" cy="853.49" r="1.8"/><circle cx="558.05" cy="853.49" r="1.8"/><circle cx="560.67" cy="853.49" r="1.8"/><circle cx="563.28" cy="853.49" r="1.8"/><circle cx="565.90" cy="853.49" r="1.8"/><circle cx="568.52" cy="853.49" r="1.8"/><circle cx="571.14" cy="853.49" r="1.8"/><circle cx="573.76" cy="855.83" r="1.8"/><circle cx="576.37" cy="853.49" r="1.8"/><circle cx="578.99" cy="853.49" r="1.8"/><circle cx="581.61" cy="853.49" r="1.8"/><circle cx="584.23" cy="851.16" r="1.8"/><circle cx="586.85" cy="853.49" r="1.8"/><circle cx="589.46" cy="851.16" r="1.8"/><circle cx="592.08" cy="853.49" r="1.8"/><circle cx="594.70" cy="851.16" r="1.8"/><circle cx="597.32" cy="851.16" r="1.8"/><circle cx="599.94" cy="851.16" r="1.8"/><circle cx="602.55" cy="853.49" r="1.8"/><circle cx="605.17" cy="853.49" r="1.8"/><circle cx="607.79" cy="851.16" r="1.8"/><circle cx="610.41" cy="848.82" r="1.8"/><circle cx="613.03" cy="848.82" r="1.8"/><circle cx="615.64" cy="848.82" r="1.8"/><circle cx="618.26" cy="848.82" r="1.8"/><circle cx="620.88" cy="848.82" r="1.8"/><circle cx="623.50" cy="851.16" r="1.8"/></g>
<path d="M47.5 791.5V882.5M658.0 791.5V882.5" stroke="#000" stroke-width="1" fill="none"/>
<path d="M47.0 791.5H658.5" stroke="#444" stroke-width="1" fill="none"/>
<path d="M47.0 882.5H658.5" stroke="#111" stroke-width="1" fill="none"/>
<path d="M42.3 879.2H47.5M42.3 867.52H47.5M42.3 855.83H47.5M42.3 844.15H47.5M42.3 832.46H47.5M42.3 820.78H47.5M42.3 809.09H47.5M42.3 797.41H47.5" stroke="#000" stroke-width="1" fill="none"/>
<text transform="translate(35.6 879.2) rotate(-90) scale(1 1.04)" text-anchor="middle" font-size="12">0</text>
<text transform="translate(35.6 844.15) rotate(-90) scale(1 1.04)" text-anchor="middle" font-size="12">150</text>
<text transform="translate(35.6 809.09) rotate(-90) scale(1 1.04)" text-anchor="middle" font-size="12">300</text>
<text transform="translate(17.3 837.7) rotate(-90) scale(1 1.04)" text-anchor="middle" font-size="12">Grad</text>
<text transform="translate(675.0 837) rotate(-90) scale(1 1.04)" text-anchor="middle" font-size="13" fill="#000">Windrichtung</text>
<path d="M60.5 882.5v5.2M91.92 882.5v5.2M123.34 882.5v5.2M154.76 882.5v5.2M186.18 882.5v5.2M217.6 882.5v5.2M249.02 882.5v5.2M280.44 882.5v5.2M311.86 882.5v5.2M343.28 882.5v5.2M374.7 882.5v5.2M406.12 882.5v5.2M437.54 882.5v5.2M468.96 882.5v5.2M500.38 882.5v5.2M531.8 882.5v5.2M563.22 882.5v5.2M594.64 882.5v5.2" stroke="#000" stroke-width="1" fill="none"/>
<text transform="translate(60.5 900) scale(1 1.04)" text-anchor="middle" font-size="12">Tue, 10:00</text>
<text transform="translate(154.76 900) scale(1 1.04)" text-anchor="middle" font-size="12">Tue, 16:00</text>
<text transform="translate(249.02 900) scale(1 1.04)" text-anchor="middle" font-size="12">Tue, 22:00</text>
<text transform="translate(343.28 900) scale(1 1.04)" text-anchor="middle" font-size="12">Wed, 04:00</text>
<text transform="translate(437.54 900) scale(1 1.04)" text-anchor="middle" font-size="12">Wed, 10:00</text>
<text transform="translate(531.8 900) scale(1 1.04)" text-anchor="middle" font-size="12">Wed, 16:00</text>
</svg>
</body></html>
